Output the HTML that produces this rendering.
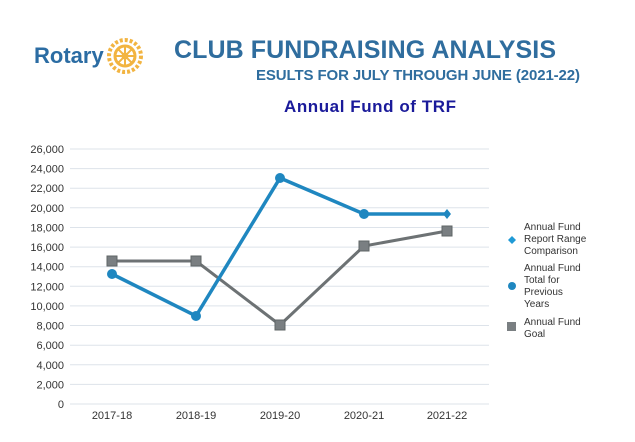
<!DOCTYPE html>
<html><head><meta charset="utf-8"><style>
body{margin:0;width:635px;height:437px;background:#fff;overflow:hidden;font-family:"Liberation Sans",sans-serif}
</style></head><body>
<svg width="635" height="437" xmlns="http://www.w3.org/2000/svg" font-family="Liberation Sans, sans-serif">
<text x="34" y="63" font-size="22" font-weight="bold" fill="#2b6ca3">Rotary</text>
<g transform="translate(125,56)" fill="none" stroke="#f2b441">
<circle r="16" stroke-width="4" stroke-dasharray="3 2"/>
<circle r="10" stroke-width="3"/>
<circle r="3" fill="#f2b441"/>
<path d="M0-10V10M-10 0H10M-7-7L7 7M7-7L-7 7" stroke-width="2"/>
</g>
<text x="174" y="58" font-size="25" font-weight="bold" fill="#2f6d9e" textLength="382">CLUB FUNDRAISING ANALYSIS</text>
<text x="256" y="80" font-size="15" font-weight="bold" fill="#2f6d9e" textLength="324">ESULTS FOR JULY THROUGH JUNE (2021-22)</text>
<text x="284" y="112" font-size="17" font-weight="bold" fill="#1a1a9a" textLength="172">Annual Fund of TRF</text>
<g stroke="#dde3ea" stroke-width="1">
<line x1="70" x2="489" y1="149" y2="149"/><line x1="70" x2="489" y1="168.6" y2="168.6"/>
<line x1="70" x2="489" y1="188.2" y2="188.2"/><line x1="70" x2="489" y1="207.8" y2="207.8"/>
<line x1="70" x2="489" y1="227.5" y2="227.5"/><line x1="70" x2="489" y1="247.1" y2="247.1"/>
<line x1="70" x2="489" y1="266.7" y2="266.7"/><line x1="70" x2="489" y1="286.3" y2="286.3"/>
<line x1="70" x2="489" y1="305.9" y2="305.9"/><line x1="70" x2="489" y1="325.5" y2="325.5"/>
<line x1="70" x2="489" y1="345.2" y2="345.2"/><line x1="70" x2="489" y1="364.8" y2="364.8"/>
<line x1="70" x2="489" y1="384.4" y2="384.4"/><line x1="70" x2="489" y1="404" y2="404"/>
</g>
<g font-size="11" fill="#333" text-anchor="end">
<text x="64" y="153">26,000</text><text x="64" y="172.6">24,000</text><text x="64" y="192.2">22,000</text>
<text x="64" y="211.8">20,000</text><text x="64" y="231.5">18,000</text><text x="64" y="251.1">16,000</text>
<text x="64" y="270.7">14,000</text><text x="64" y="290.3">12,000</text><text x="64" y="309.9">10,000</text>
<text x="64" y="329.5">8,000</text><text x="64" y="349.2">6,000</text><text x="64" y="368.8">4,000</text>
<text x="64" y="388.4">2,000</text><text x="64" y="408">0</text>
</g>
<g font-size="11" fill="#333" text-anchor="middle">
<text x="112" y="419">2017-18</text><text x="196" y="419">2018-19</text><text x="280" y="419">2019-20</text>
<text x="364" y="419">2020-21</text><text x="447" y="419">2021-22</text>
</g>
<polyline points="112,261 196,261 280,325 364,246 447,231" fill="none" stroke="#6d7274" stroke-width="3"/>
<g fill="#7a7f82" stroke="#5f6466"><rect x="107" y="256" width="10" height="10"/><rect x="191" y="256" width="10" height="10"/><rect x="275" y="320" width="10" height="10"/><rect x="359" y="241" width="10" height="10"/><rect x="442" y="226" width="10" height="10"/></g>
<polyline points="112,274 196,316 280,178 364,214 447,214" fill="none" stroke="#1f87c0" stroke-width="3.5"/>
<g fill="#1f87c0"><circle cx="112" cy="274" r="5"/><circle cx="196" cy="316" r="5"/><circle cx="280" cy="178" r="5"/><circle cx="364" cy="214" r="5"/><path d="M447 209l4 5-4 5-4-5z"/></g>
<g font-size="10" fill="#333">
<path d="M512 236l4 4-4 4-4-4z" fill="#1f9ad6"/>
<text x="524" y="230">Annual Fund</text><text x="524" y="242">Report Range</text><text x="524" y="254">Comparison</text>
<circle cx="512" cy="286" r="4" fill="#1f87c0"/>
<text x="524" y="271">Annual Fund</text><text x="524" y="283">Total for</text><text x="524" y="295">Previous</text><text x="524" y="307">Years</text>
<rect x="507" y="322" width="9" height="9" fill="#7a7f82"/>
<text x="524" y="325">Annual Fund</text><text x="524" y="337">Goal</text>
</g>
</svg>
</body></html>
